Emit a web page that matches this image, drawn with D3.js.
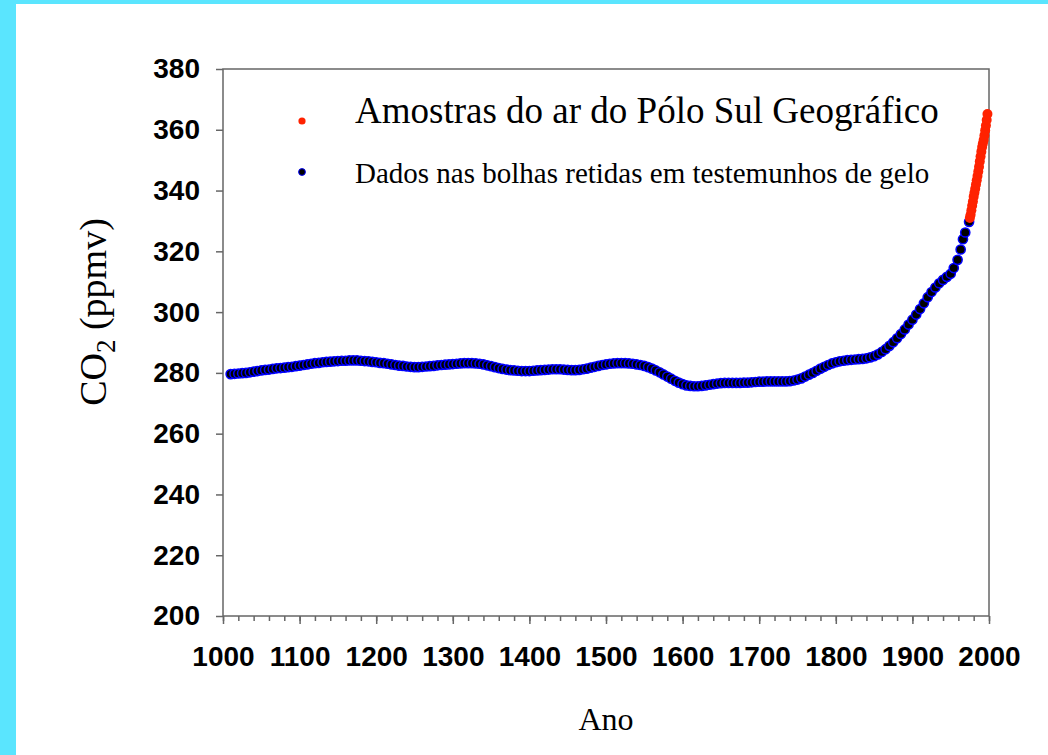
<!DOCTYPE html>
<html>
<head>
<meta charset="utf-8">
<script src="https://cdn.jsdelivr.net/npm/d3@7"></script>
<style>
  body { margin: 0; background: #5ae5fe; }
  svg { display: block; }
</style>
</head>
<body>
<svg id="chart" width="1048" height="755"></svg>
<script>
// ice core data, 5-year steps to 1950, then sparser
const iceYears = [
  1010,1015,1020,1025,1030,1035,1040,1045,1050,1055,1060,1065,1070,1075,1080,1085,1090,1095,
  1100,1105,1110,1115,1120,1125,1130,1135,1140,1145,1150,1155,1160,1165,1170,1175,1180,1185,1190,1195,
  1200,1205,1210,1215,1220,1225,1230,1235,1240,1245,1250,1255,1260,1265,1270,1275,1280,1285,1290,1295,
  1300,1305,1310,1315,1320,1325,1330,1335,1340,1345,1350,1355,1360,1365,1370,1375,1380,1385,1390,1395,
  1400,1405,1410,1415,1420,1425,1430,1435,1440,1445,1450,1455,1460,1465,1470,1475,1480,1485,1490,1495,
  1500,1505,1510,1515,1520,1525,1530,1535,1540,1545,1550,1555,1560,1565,1570,1575,1580,1585,1590,1595,
  1600,1605,1610,1615,1620,1625,1630,1635,1640,1645,1650,1655,1660,1665,1670,1675,1680,1685,1690,1695,
  1700,1705,1710,1715,1720,1725,1730,1735,1740,1745,1750,1755,1760,1765,1770,1775,1780,1785,1790,1795,
  1800,1805,1810,1815,1820,1825,1830,1835,1840,1845,1850,1855,1860,1865,1870,1875,1880,1885,1890,1895,
  1900,1905,1910,1915,1920,1925,1930,1935,1940,1945,1950,
  1954,1959,1963,1966,1969,1974
];
const iceCO2 = [
  279.6,279.7,279.8,279.9,280.0,280.2,280.4,280.6,280.8,281.0,281.1,281.3,281.5,281.6,281.7,281.9,282.0,282.2,
  282.4,282.6,282.8,283.0,283.2,283.3,283.5,283.6,283.7,283.8,283.9,284.0,284.0,284.1,284.1,284.1,284.0,283.9,283.8,283.6,
  283.5,283.3,283.2,283.0,282.8,282.6,282.4,282.3,282.1,282.0,281.9,281.9,282.0,282.1,282.2,282.3,282.5,282.6,282.7,282.8,
  282.9,283.0,283.1,283.2,283.2,283.2,283.1,283.0,282.8,282.5,282.2,281.9,281.6,281.3,281.1,280.9,280.8,280.7,280.6,280.6,
  280.6,280.7,280.8,280.9,281.0,281.1,281.2,281.2,281.2,281.1,281.0,280.9,280.9,281.0,281.2,281.4,281.7,282.0,282.3,282.6,
  282.8,283.0,283.1,283.2,283.2,283.2,283.1,283.0,282.8,282.6,282.3,281.9,281.4,280.8,280.2,279.5,278.8,278.1,277.4,276.8,
  276.3,275.9,275.7,275.6,275.6,275.7,275.9,276.1,276.3,276.5,276.6,276.7,276.7,276.7,276.7,276.7,276.8,276.8,276.9,277.0,
  277.1,277.1,277.2,277.2,277.2,277.2,277.2,277.2,277.3,277.5,277.8,278.2,278.8,279.4,280.0,280.7,281.4,282.0,282.6,283.1,
  283.5,283.8,284.0,284.2,284.3,284.4,284.5,284.6,284.8,285.1,285.5,286.1,286.9,287.8,288.9,290.1,291.4,292.8,294.3,295.9,
  297.5,299.2,301.0,302.9,304.9,306.6,308.1,309.5,310.6,311.6,312.6,
  314.5,317.2,320.6,324.0,326.2,329.7
];
// South Pole air samples
const airYears = [1975,1976,1977,1978,1979,1980,1981,1982,1983,1984,1985,1986,
  1987,1988,1989,1990,1991,1992,1993,1994,1995,1996,1997,1998];
const airCO2 = [331.0,332.0,333.5,335.0,336.4,338.0,339.3,340.6,342.0,343.4,344.8,346.3,
  347.8,349.6,351.2,352.8,354.3,355.5,356.6,358.1,359.8,361.4,363.2,365.2];

const xMajor = d3.range(1000, 2001, 100);
const xMinor = d3.range(1000, 2001, 20);
const yTicks = d3.range(200, 381, 20);
const legendLabels = ["Amostras do ar do Pólo Sul Geográfico", "Dados nas bolhas retidas em testemunhos de gelo"];

const svg = d3.select("#chart");

svg.append("rect").attr("x", 16).attr("y", 4).attr("width", 1032).attr("height", 751).attr("fill", "#fff");

const x = d3.scaleLinear().domain([1000, 2000]).range([223, 989]);
const y = d3.scaleLinear().domain([200, 380]).range([616, 69]);

const axisColor = "#666";

// frame
svg.append("rect")
  .attr("x", x(1000)).attr("y", y(380))
  .attr("width", x(2000) - x(1000)).attr("height", y(200) - y(380))
  .attr("fill", "none").attr("stroke", axisColor).attr("stroke-width", 1.5);

// x minor ticks
svg.append("g")
  .attr("transform", `translate(0,${y(200)})`)
  .call(d3.axisBottom(x).tickValues(xMinor).tickSize(5).tickFormat(""))
  .call(g => g.select(".domain").remove())
  .call(g => g.selectAll("line").attr("stroke", axisColor).attr("stroke-width", 1.5));

const xAxis = svg.append("g")
  .attr("transform", `translate(0,${y(200)})`)
  .call(d3.axisBottom(x).tickValues(xMajor).tickSize(8).tickPadding(22).tickFormat(d3.format("d")));
xAxis.select(".domain").remove();
xAxis.selectAll("line").attr("stroke", axisColor).attr("stroke-width", 1.5);
xAxis.selectAll("text")
  .attr("fill", "#000")
  .style("font-family", "Arial, 'Liberation Sans', sans-serif")
  .style("font-weight", "bold")
  .style("font-size", "28px");

const yAxis = svg.append("g")
  .attr("transform", `translate(${x(1000)},0)`)
  .call(d3.axisLeft(y).tickValues(yTicks).tickSize(7).tickPadding(16));
yAxis.select(".domain").remove();
yAxis.selectAll("line").attr("stroke", axisColor).attr("stroke-width", 1.5);
yAxis.selectAll("text")
  .attr("fill", "#000")
  .style("font-family", "Arial, 'Liberation Sans', sans-serif")
  .style("font-weight", "bold")
  .style("font-size", "28px");

// axis titles
const serif = "'Times New Roman', 'Liberation Serif', serif";
svg.append("text")
  .attr("x", (x(1000) + x(2000)) / 2).attr("y", 730)
  .attr("text-anchor", "middle")
  .style("font-family", serif).style("font-size", "32px")
  .text("Ano");

const yTitle = svg.append("text")
  .attr("transform", "translate(106,312) rotate(-90)")
  .attr("text-anchor", "middle")
  .style("font-family", serif).style("font-size", "38px");
yTitle.append("tspan").text("CO");
yTitle.append("tspan").attr("dy", 9).style("font-size", "27px").text("2");
yTitle.append("tspan").attr("dy", -9).text(" (ppmv)");

// data
const ice = iceYears.map((yr, i) => ({ year: yr, co2: iceCO2[i] }));
const air = airYears.map((yr, i) => ({ year: yr, co2: airCO2[i] }));

svg.append("g").selectAll("circle")
  .data(ice)
  .join("circle")
  .attr("cx", d => x(d.year))
  .attr("cy", d => y(d.co2))
  .attr("r", 4.6)
  .attr("fill", "#000")
  .attr("stroke", "#0000ff")
  .attr("stroke-width", 1.5);

svg.append("g").selectAll("circle")
  .data(air)
  .join("circle")
  .attr("cx", d => x(d.year))
  .attr("cy", d => y(d.co2))
  .attr("r", 5)
  .attr("fill", "#ff2200");

// legend
const legend = svg.append("g");
legend.append("circle").attr("cx", 302).attr("cy", 121).attr("r", 3.6).attr("fill", "#ff2200");
legend.append("circle").attr("cx", 302).attr("cy", 172).attr("r", 3.4)
  .attr("fill", "#000").attr("stroke", "#0000ff").attr("stroke-width", 1);
legend.append("text").attr("x", 355).attr("y", 123)
  .style("font-family", serif).style("font-size", "37px").text(legendLabels[0]);
legend.append("text").attr("x", 355).attr("y", 183)
  .style("font-family", serif).style("font-size", "29px").text(legendLabels[1]);
</script>
</body>
</html>
